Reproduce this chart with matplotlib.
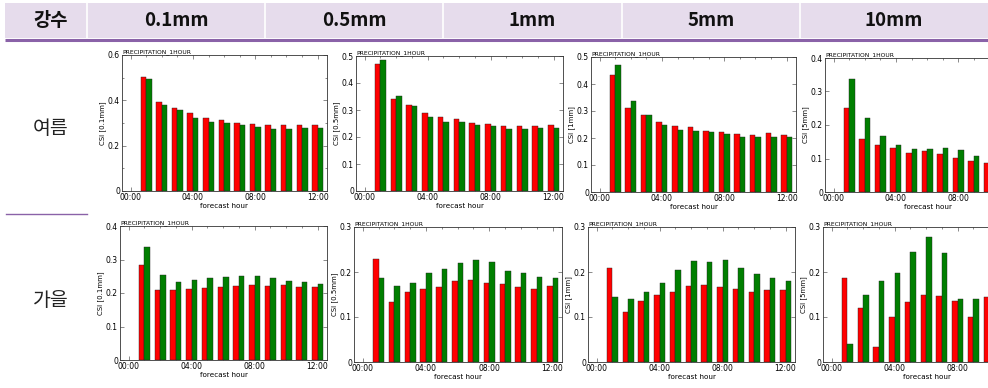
import numpy as np
import matplotlib
matplotlib.use("Agg")
import matplotlib.pyplot as plt
from matplotlib.patches import Rectangle
from matplotlib.ticker import MultipleLocator, FuncFormatter

plt.rcParams['font.family'] = ['DejaVu Sans']

# ---------------- data ----------------
hours = np.arange(1, 13)
thresholds = ["0.1mm", "0.5mm", "1mm", "5mm", "10mm"]
seasons = ["여름", "가을"]
header_first = "강수"

# summer (여름) CSI, red / green series
summer_01_red = [0.504, 0.391, 0.366, 0.342, 0.324, 0.314, 0.302, 0.295, 0.290, 0.290, 0.292, 0.292]
summer_01_grn = [0.492, 0.381, 0.356, 0.323, 0.304, 0.299, 0.292, 0.283, 0.274, 0.274, 0.276, 0.279]
summer_05_red = [0.469, 0.341, 0.317, 0.290, 0.273, 0.265, 0.252, 0.248, 0.242, 0.242, 0.242, 0.243]
summer_05_grn = [0.484, 0.353, 0.314, 0.275, 0.254, 0.254, 0.246, 0.242, 0.228, 0.228, 0.232, 0.232]
summer_1_red = [0.435, 0.310, 0.285, 0.260, 0.246, 0.241, 0.227, 0.221, 0.214, 0.212, 0.217, 0.212]
summer_1_grn = [0.472, 0.336, 0.286, 0.247, 0.231, 0.227, 0.223, 0.215, 0.204, 0.202, 0.205, 0.202]
summer_5_red = [0.250, 0.157, 0.140, 0.131, 0.116, 0.121, 0.112, 0.102, 0.093, 0.088, 0.090, 0.085]
summer_5_grn = [0.338, 0.220, 0.168, 0.140, 0.127, 0.128, 0.130, 0.124, 0.108, 0.105, 0.100, 0.095]

# autumn (가을) CSI, red / green series
autumn_01_red = [0.283, 0.208, 0.208, 0.211, 0.216, 0.219, 0.221, 0.224, 0.222, 0.223, 0.217, 0.219]
autumn_01_grn = [0.336, 0.253, 0.232, 0.239, 0.244, 0.247, 0.250, 0.250, 0.246, 0.236, 0.232, 0.227]
autumn_05_red = [0.230, 0.134, 0.156, 0.162, 0.166, 0.179, 0.182, 0.175, 0.174, 0.167, 0.162, 0.168]
autumn_05_grn = [0.186, 0.170, 0.176, 0.198, 0.207, 0.220, 0.227, 0.222, 0.203, 0.197, 0.189, 0.187]
autumn_1_red = [0.208, 0.112, 0.136, 0.149, 0.156, 0.169, 0.172, 0.166, 0.163, 0.156, 0.161, 0.159]
autumn_1_grn = [0.145, 0.141, 0.155, 0.176, 0.204, 0.224, 0.223, 0.226, 0.209, 0.195, 0.186, 0.181]
autumn_5_red = [0.186, 0.119, 0.034, 0.101, 0.133, 0.150, 0.146, 0.136, 0.101, 0.145, 0.120, 0.110]
autumn_5_grn = [0.039, 0.148, 0.180, 0.197, 0.244, 0.278, 0.243, 0.141, 0.139, 0.130, 0.140, 0.125]

panels = [
    # row, col, red, green, ymax, ylabel
    (0, 0, summer_01_red, summer_01_grn, 0.6, "CSI [0.1mm]"),
    (0, 1, summer_05_red, summer_05_grn, 0.5, "CSI [0.5mm]"),
    (0, 2, summer_1_red, summer_1_grn, 0.5, "CSI [1mm]"),
    (0, 3, summer_5_red, summer_5_grn, 0.4, "CSI [5mm]"),
    (1, 0, autumn_01_red, autumn_01_grn, 0.4, "CSI [0.1mm]"),
    (1, 1, autumn_05_red, autumn_05_grn, 0.3, "CSI [0.5mm]"),
    (1, 2, autumn_1_red, autumn_1_grn, 0.3, "CSI [1mm]"),
    (1, 3, autumn_5_red, autumn_5_grn, 0.3, "CSI [5mm]"),
]

# ---------------- layout (pixels) ----------------
W, H = 988, 388
fig = plt.figure(figsize=(W / 100, H / 100), dpi=100)
fig.patch.set_facecolor("white")

bg = fig.add_axes([0, 0, 1, 1], zorder=0)
bg.set_xlim(0, W)
bg.set_ylim(H, 0)
bg.axis("off")

# header band
bg.add_patch(Rectangle((5, 3), W - 5, 35, facecolor="#e6dcec", edgecolor="none"))
col_edges = [5, 87, 265, 443, 622, 800, W]
for xe in col_edges[1:-1]:
    bg.plot([xe, xe], [3, 38], color="white", lw=1.2)
bg.plot([5, W], [39.5, 39.5], color="#8a62a8", lw=2.2, solid_capstyle="butt")

kr = ["Noto Sans CJK KR", "DejaVu Sans"]
labels = [header_first] + thresholds
for i, lab in enumerate(labels):
    cx = (col_edges[i] + col_edges[i + 1]) / 2 + (5 if i == 0 else 0)
    bg.text(cx, 21, lab, ha="center", va="center", fontsize=13.5,
            family=kr, fontweight="bold", color="#111111")

# row labels and separator
bg.text(51, 128, seasons[0], ha="center", va="center", fontsize=14, family=kr, color="#222222")
bg.text(51, 300, seasons[1], ha="center", va="center", fontsize=14, family=kr, color="#222222")
bg.plot([6, 87], [214, 214], color="#8a62a8", lw=1.0)

# axes boxes: (left, right, top, bottom) in pixels
boxes = {
    (0, 0): (122, 327, 55, 191),
    (0, 1): (356, 563, 56, 191),
    (0, 2): (591, 796, 57, 192),
    (0, 3): (825, 1030, 58, 192),
    (1, 0): (120, 327, 226, 360),
    (1, 1): (354, 562, 227, 362),
    (1, 2): (588, 795, 227, 362),
    (1, 3): (823, 1030, 227, 362),
}

def yfmt(v, _):
    return "0" if abs(v) < 1e-9 else f"{v:.1f}"

def make_xfmt(last_hour):
    def xfmt(v, _):
        h = int(round(v))
        return f"{h:02d}:00" if h <= last_hour else ""
    return xfmt

bw = 0.35
for r, c, red, grn, ymax, ylab in panels:
    l, rr, t, b = boxes[(r, c)]
    ax = fig.add_axes([l / W, 1 - b / H, (rr - l) / W, (b - t) / H], zorder=2)
    ax.bar(hours - bw, red, width=bw, align="edge", color="#ff0000",
           edgecolor="#222222", linewidth=0.3)
    ax.bar(hours, grn, width=bw, align="edge", color="#007f00",
           edgecolor="#222222", linewidth=0.3)
    ax.set_xlim(-0.55, 12.6)
    ax.set_ylim(0, ymax)
    ax.xaxis.set_major_locator(MultipleLocator(4))
    ax.xaxis.set_minor_locator(MultipleLocator(1))
    # the rightmost column runs past the page edge; only label ticks on the page
    ax.xaxis.set_major_formatter(FuncFormatter(make_xfmt(8 if c == 3 else 12)))
    if ymax == 0.6:
        ax.yaxis.set_major_locator(MultipleLocator(0.2))
        ax.yaxis.set_minor_locator(MultipleLocator(0.1))
    else:
        ax.yaxis.set_major_locator(MultipleLocator(0.1))
    ax.yaxis.set_major_formatter(FuncFormatter(yfmt))
    ax.tick_params(which="both", direction="in", top=True, right=True,
                   labelsize=5.5, pad=1.5, width=0.4, color="#333333")
    ax.tick_params(which="major", length=3)
    ax.tick_params(which="minor", length=1.5)
    for s in ax.spines.values():
        s.set_linewidth(0.6)
        s.set_color("#333333")
    ax.set_xlabel("forecast hour", fontsize=5.2, labelpad=0.5)
    ax.set_ylabel(ylab, fontsize=5, labelpad=1.5)
    ax.set_title("PRECIPITATION_1HOUR", loc="left", fontsize=4.3, pad=1.2)

fig.savefig("out.png", dpi=100)
